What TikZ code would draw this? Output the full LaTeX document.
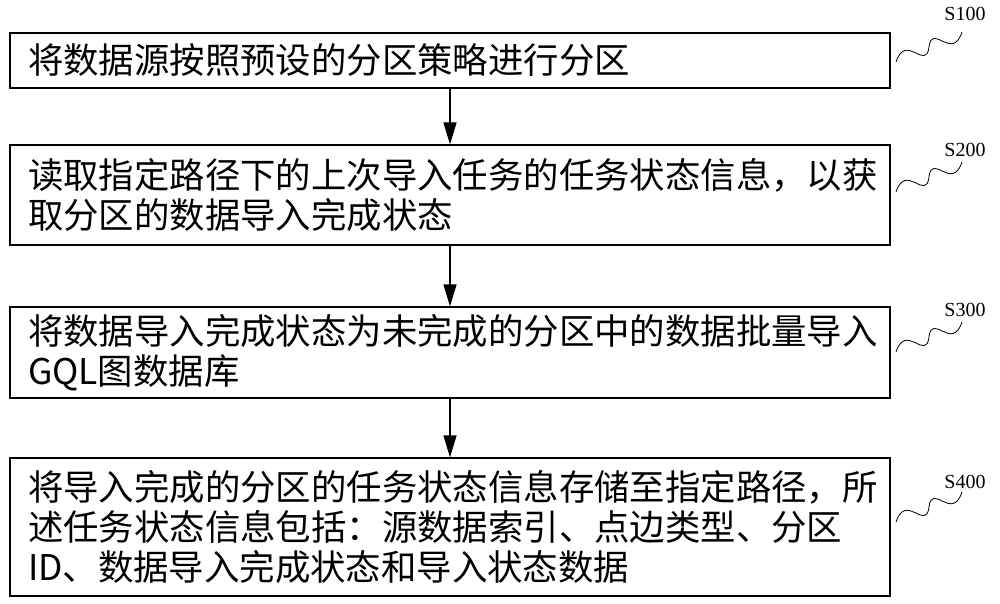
\documentclass[tikz,border=0pt]{standalone}
\usepackage{fontspec}
\newfontfamily\cjk{Noto Sans CJK SC}
\newfontfamily\labfont{Liberation Serif}
\usetikzlibrary{arrows.meta,calc}
\begin{document}
\begin{tikzpicture}[x=1pt,y=-1pt,
  stepbox/.style={draw,line width=1.2pt,minimum width=880pt,inner xsep=18pt,text width=844pt,align=left,font=\cjk\fontsize{35.4}{40}\selectfont},
  arr/.style={-{Triangle[length=22pt,width=13pt]},line width=1.2pt},
  wave/.style={line width=0.8pt},
  lab/.style={font=\labfont\fontsize{20}{22}\selectfont}]
\useasboundingbox (0,0) rectangle (1000,604);
\node[stepbox,minimum height=55pt] (b1) at (450,60.5) {将数据源按照预设的分区策略进行分区};
\node[stepbox,minimum height=100pt] (b2) at (450,195) {读取指定路径下的上次导入任务的任务状态信息，以获\\取分区的数据导入完成状态};
\node[stepbox,minimum height=91pt] (b3) at (450,352.5) {将数据导入完成状态为未完成的分区中的数据批量导入\\GQL图数据库};
\node[stepbox,minimum height=138pt] (b4) at (450,527) {将导入完成的分区的任务状态信息存储至指定路径，所\\述任务状态信息包括：源数据索引、点边类型、分区\\ID、数据导入完成状态和导入状态数据};
\draw[arr] (b1) -- (b2);
\draw[arr] (b2) -- (b3);
\draw[arr] (b3) -- (b4);
\foreach \n/\y/\t in {1/14/S100,2/150/S200,3/310/S300,4/482/S400}{
  \node[lab] (l\n) at (965,\y) {\t};
}
\foreach \n/\y in {1/62,2/192,3/352,4/522}{
  \coordinate (w\n a) at (896,\y);
  \coordinate (w\n b) at (962,\y-30);
  \draw[wave] (w\n a) .. controls ($(w\n a)+(10,-30)$) and ($(w\n a)+(30,10)$) .. ($(w\n a)!0.5!(w\n b)$) .. controls ($(w\n b)+(-30,-10)$) and ($(w\n b)+(-10,30)$) .. (w\n b);
}
\end{tikzpicture}
\end{document}
